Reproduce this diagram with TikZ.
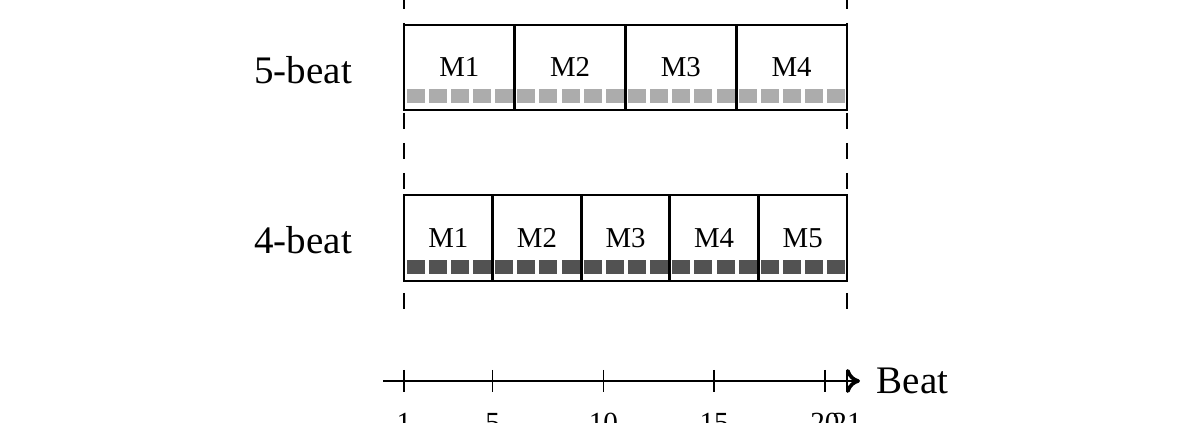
\documentclass[tikz,border=0pt]{standalone}
\usepackage{fontspec}
\setmainfont{Liberation Serif}
\usetikzlibrary{positioning}
\usetikzlibrary{arrows.meta}

\tikzset{
  measure/.style={draw, line width=0.7pt, inner sep=0pt, text height=1.45ex, text depth=0.45ex, font=\fontsize{7.2}{8}\selectfont},
  fivebar/.style={measure, minimum width=27.69pt, minimum height=21.25pt},
  fourbar/.style={measure, minimum width=22.15pt, minimum height=21.5pt},
  rowlabel/.style={font=\fontsize{9.75}{11}\selectfont, anchor=east},
  lightbeat/.style={fill=gray!65},
  darkbeat/.style={fill=black!68},
  guide/.style={line width=0.7pt, dash pattern=on 4pt off 3.5pt},
  ticklabel/.style={font=\fontsize{7.3}{8}\selectfont, inner sep=0pt}
}

\begin{document}
\begin{tikzpicture}[x=0.25pt,y=-0.25pt]
\useasboundingbox (0,0) rectangle (1200,423);

% dashed guides at beat 1 and beat 21
\coordinate (gl1) at (404,-7);
\coordinate (gl2) at (404,309);
\coordinate (gr1) at (847,-7);
\coordinate (gr2) at (847,309);
\draw[guide] (gl1) -- (gl2);
\draw[guide] (gr1) -- (gr2);

% 5-beat row
\node[rowlabel] (five) at (366,70) {5-beat};
\foreach \m in {1,...,4} {
  \node[fivebar] (f\m) at ({404+(\m-0.5)*110.75},67.5) {M\m};
}
\foreach \b in {1,...,20} {
  \fill[lightbeat] ({404+(\b-1)*22.15+2.5},89) rectangle ++(18,14.5);
}

% 4-beat row
\node[rowlabel] (four) at (366,240) {4-beat};
\foreach \m in {1,...,5} {
  \node[fourbar] (g\m) at ({404+(\m-0.5)*88.6},238) {M\m};
}
\foreach \b in {1,...,20} {
  \fill[darkbeat] ({404+(\b-1)*22.15+2.5},260) rectangle ++(18,14.5);
}

% beat axis
\coordinate (ax1) at (383,381);
\coordinate (ax2) at (860,381);
\draw[line width=0.6pt, -{To[length=3.5pt,width=6pt,line width=0.9pt]}] (ax1) -- (ax2);
\node[right=3pt of ax2, font=\fontsize{9.75}{11}\selectfont, inner sep=1pt] (beat) {Beat};
\foreach \t in {1,5,10,15,20,21} {
  \coordinate (t\t) at ({404+(\t-1)*22.15},381);
  \draw[line width=0.4pt] ([yshift=2.75pt]t\t) -- ([yshift=-2.75pt]t\t);
  \node[ticklabel] (l\t) at ([yshift=-10.5pt]t\t) {\t};
}

\end{tikzpicture}
\end{document}
